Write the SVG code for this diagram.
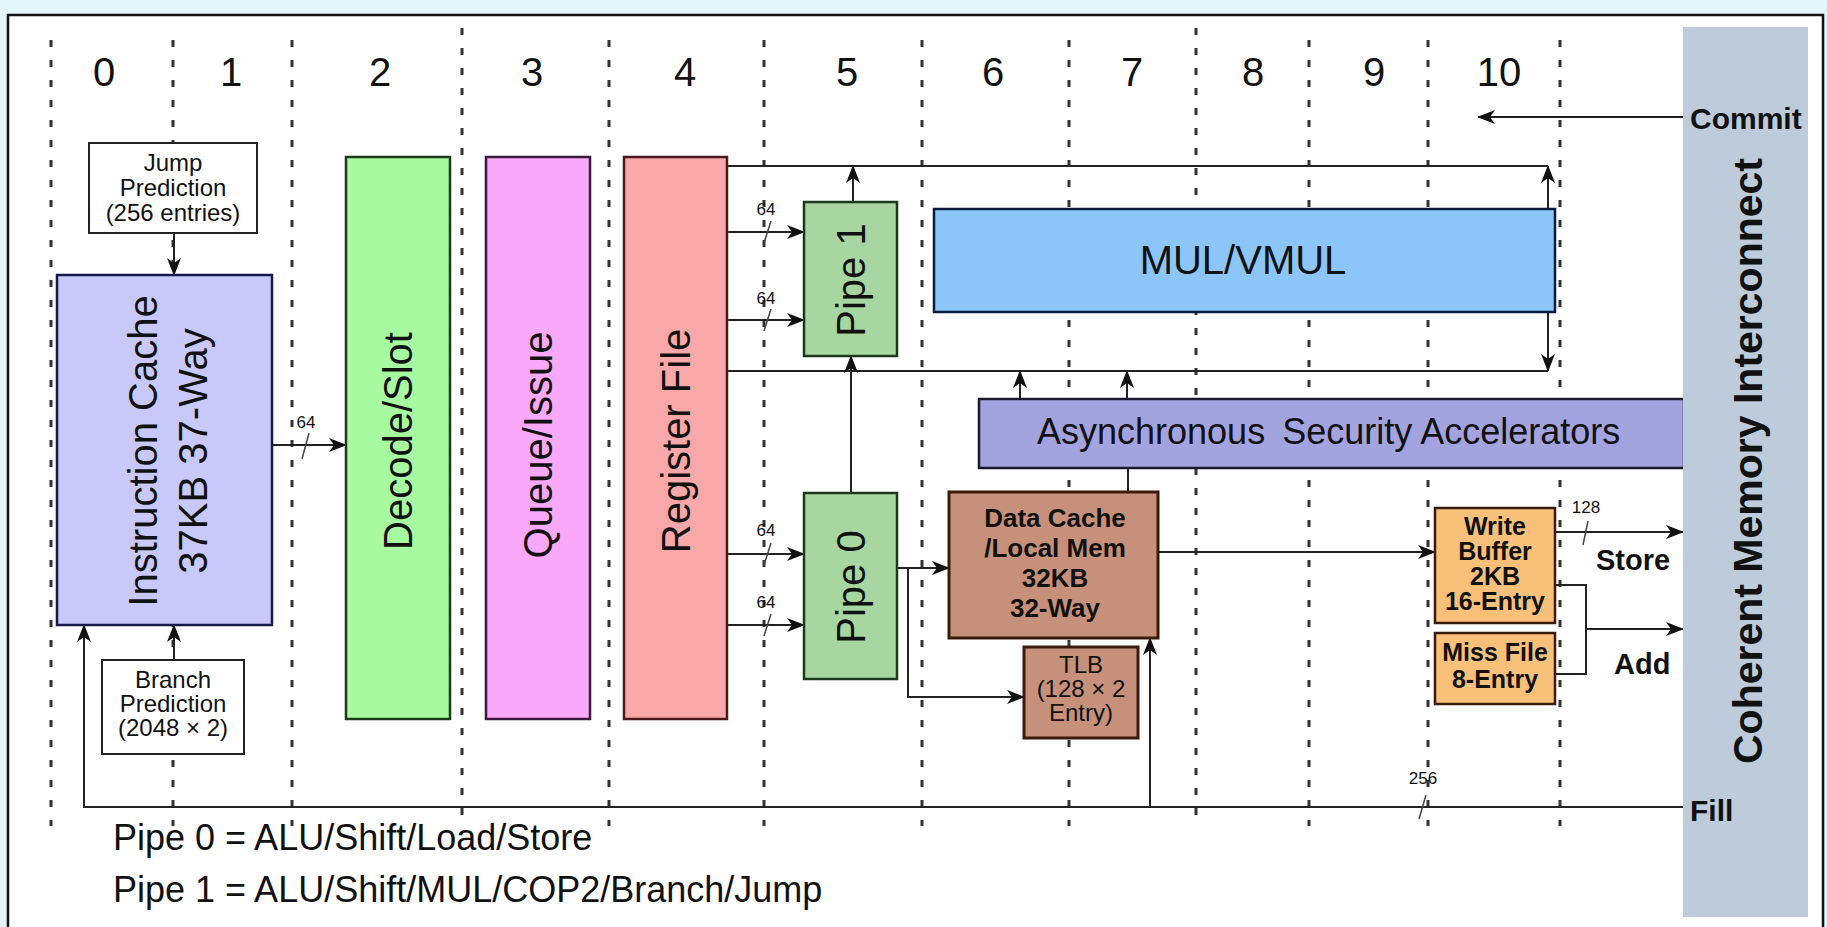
<svg xmlns="http://www.w3.org/2000/svg" width="1827" height="927" viewBox="0 0 1827 927">
<style>
text{font-family:"Liberation Sans",Arial,sans-serif;fill:#111}
.big{font-size:40px}
.mid{font-size:36px}
.sm{font-size:24px}
.b{font-weight:bold}
.lbl{font-size:17px;fill:#333}
.dash{stroke:#333;stroke-width:3;stroke-dasharray:7 13;fill:none}
.ln{stroke:#222;stroke-width:2;fill:none}
.arr{stroke:#222;stroke-width:2;fill:none;marker-end:url(#ah)}
.sl{stroke:#444;stroke-width:1.5}
.bx{stroke-width:2.5}
</style>
<defs>
<marker id="ah" viewBox="0 0 18 14" refX="17" refY="7" markerWidth="18" markerHeight="14" markerUnits="userSpaceOnUse" orient="auto">
<path d="M0,0 L18,7 L0,14 L5,7 z" fill="#111"/>
</marker>
</defs>
<rect x="0" y="0" width="1827" height="927" fill="#e2f5f8"/>
<rect x="8" y="15" width="1815" height="920" fill="#ffffff" stroke="#111" stroke-width="2.5"/>

<g id="stage-lines">
<path class="dash" d="M51,40V826M173,40V826M292,40V826M462,28V826M609,40V826M764,40V826M922,40V826M1069,40V826M1196,28V826M1309,40V826M1428,40V826M1560,40V826"/>
</g>

<g id="stage-numbers" class="big" text-anchor="middle">
<text x="104" y="86">0</text>
<text x="231" y="86">1</text>
<text x="380" y="86">2</text>
<text x="532" y="86">3</text>
<text x="685" y="86">4</text>
<text x="847" y="86">5</text>
<text x="993" y="86">6</text>
<text x="1132" y="86">7</text>
<text x="1253" y="86">8</text>
<text x="1374" y="86">9</text>
<text x="1499" y="86">10</text>
</g>

<g id="connectors">
<path class="arr" d="M174,233V275"/>
<path class="arr" d="M174,660V625"/>
<path class="arr" d="M272,445H346"/>
<path class="arr" d="M727,232H804"/>
<path class="arr" d="M727,320H804"/>
<path class="arr" d="M727,554H804"/>
<path class="arr" d="M727,625H804"/>
<path class="ln" d="M727,166H1548"/>
<path class="ln" d="M727,371H1548"/>
<path class="arr" d="M853,202V166"/>
<path class="arr" d="M1548,209V166"/>
<path class="arr" d="M1548,312V371"/>
<path class="arr" d="M851,493V356"/>
<path class="arr" d="M1020,399V371"/>
<path class="arr" d="M1127,399V371"/>
<path class="ln" d="M1128,468V492"/>
<path class="arr" d="M897,568H949"/>
<path class="arr" d="M908,568V697H1024"/>
<path class="arr" d="M1150,807V638"/>
<path class="arr" d="M1158,552H1435"/>
<path class="arr" d="M1555,532H1683"/>
<path class="ln" d="M1555,585H1586V674H1555"/>
<path class="arr" d="M1586,629H1683"/>
<path class="arr" d="M1683,807H84V625"/>
<path class="arr" d="M1683,117H1478"/>
<path class="sl" d="M309,433L302,459M771,221L764,243M771,309L764,331M771,543L764,565M771,614L764,636M1588,521L1583,545M1426,795L1419,819"/>
<g class="lbl" text-anchor="middle">
<text x="306" y="428">64</text>
<text x="766" y="215">64</text>
<text x="766" y="304">64</text>
<text x="766" y="536">64</text>
<text x="766" y="608">64</text>
<text x="1586" y="513">128</text>
<text x="1423" y="784">256</text>
</g>
</g>

<g id="jump-prediction">
<rect x="89" y="143" width="168" height="90" fill="#fff" stroke="#222" stroke-width="2"/>
<g class="sm" text-anchor="middle">
<text x="173" y="171">Jump</text>
<text x="173" y="196">Prediction</text>
<text x="173" y="221">(256 entries)</text>
</g>
</g>

<g id="branch-prediction">
<rect x="102" y="660" width="142" height="94" fill="#fff" stroke="#222" stroke-width="2"/>
<g class="sm" text-anchor="middle">
<text x="173" y="688">Branch</text>
<text x="173" y="712">Prediction</text>
<text x="173" y="736">(2048 × 2)</text>
</g>
</g>

<g id="instruction-cache">
<rect class="bx" x="57" y="275" width="215" height="350" fill="#c8c8fa" stroke="#1a1a4a"/>
<text class="big" text-anchor="middle" transform="translate(157,451) rotate(-90)">Instruction Cache</text>
<text class="big" text-anchor="middle" transform="translate(207,451) rotate(-90)">37KB 37-Way</text>
</g>

<g id="decode-slot">
<rect class="bx" x="346" y="157" width="104" height="562" fill="#a8faa0" stroke="#1a3a1a"/>
<text class="big" text-anchor="middle" transform="translate(412,441) rotate(-90)">Decode/Slot</text>
</g>

<g id="queue-issue">
<rect class="bx" x="486" y="157" width="104" height="562" fill="#faa8fa" stroke="#3a1a3a"/>
<text class="big" text-anchor="middle" transform="translate(552,445) rotate(-90)">Queue/Issue</text>
</g>

<g id="register-file">
<rect class="bx" x="624" y="157" width="103" height="562" fill="#f8a8a8" stroke="#4a1a1a"/>
<text class="big" text-anchor="middle" transform="translate(690,441) rotate(-90)">Register File</text>
</g>

<g id="pipe-1">
<rect class="bx" x="804" y="202" width="93" height="154" fill="#a8d6a0" stroke="#1a3a1a"/>
<text class="big" text-anchor="middle" transform="translate(865,280) rotate(-90)">Pipe 1</text>
</g>

<g id="pipe-0">
<rect class="bx" x="804" y="493" width="93" height="186" fill="#a8d6a0" stroke="#1a3a1a"/>
<text class="big" text-anchor="middle" transform="translate(865,587) rotate(-90)">Pipe 0</text>
</g>

<g id="mul-vmul">
<rect class="bx" x="934" y="209" width="621" height="103" fill="#8cc6f8" stroke="#0a1a3a"/>
<text class="big" x="1243" y="274" text-anchor="middle">MUL/VMUL</text>
</g>

<g id="async-security">
<rect class="bx" x="979" y="399" width="705" height="69" fill="#a3a3e0" stroke="#1a1a2a"/>
<text class="mid" x="1037" y="444">Asynchronous<tspan dx="7"> Security Accelerators</tspan></text>
</g>

<g id="data-cache">
<rect x="949" y="492" width="209" height="146" fill="#c6907a" stroke="#3a1a0a" stroke-width="3"/>
<g class="b" font-size="26" text-anchor="middle">
<text x="1055" y="527">Data Cache</text>
<text x="1055" y="557">/Local Mem</text>
<text x="1055" y="587">32KB</text>
<text x="1055" y="617">32-Way</text>
</g>
</g>

<g id="tlb">
<rect x="1024" y="647" width="114" height="91" fill="#c6907a" stroke="#3a1a0a" stroke-width="3"/>
<g font-size="24" text-anchor="middle">
<text x="1081" y="673">TLB</text>
<text x="1081" y="697">(128 × 2</text>
<text x="1081" y="721">Entry)</text>
</g>
</g>

<g id="write-buffer">
<rect x="1435" y="508" width="120" height="115" fill="#f9c07a" stroke="#3a1a0a" stroke-width="2.5"/>
<g class="b" font-size="25" text-anchor="middle">
<text x="1495" y="535">Write</text>
<text x="1495" y="560">Buffer</text>
<text x="1495" y="585">2KB</text>
<text x="1495" y="610">16-Entry</text>
</g>
</g>

<g id="miss-file">
<rect x="1435" y="633" width="120" height="71" fill="#f9c07a" stroke="#3a1a0a" stroke-width="2.5"/>
<g class="b" font-size="25" text-anchor="middle">
<text x="1495" y="661">Miss File</text>
<text x="1495" y="688">8-Entry</text>
</g>
</g>

<g id="coherent-memory-interconnect">
<rect x="1683" y="27" width="125" height="890" fill="#bdcbda"/>
<text class="b" font-size="41" text-anchor="middle" transform="translate(1762,461) rotate(-90)">Coherent Memory Interconnect</text>
<text class="b" font-size="30" x="1690" y="129">Commit</text>
<text class="b" font-size="30" x="1690" y="821">Fill</text>
</g>

<g id="port-labels" class="b" font-size="29">
<text x="1596" y="570">Store</text>
<text x="1614" y="674">Add</text>
</g>

<g id="legend" class="mid">
<text x="113" y="850">Pipe 0 = ALU/Shift/Load/Store</text>
<text x="113" y="902">Pipe 1 = ALU/Shift/MUL/COP2/Branch/Jump</text>
</g>
</svg>
